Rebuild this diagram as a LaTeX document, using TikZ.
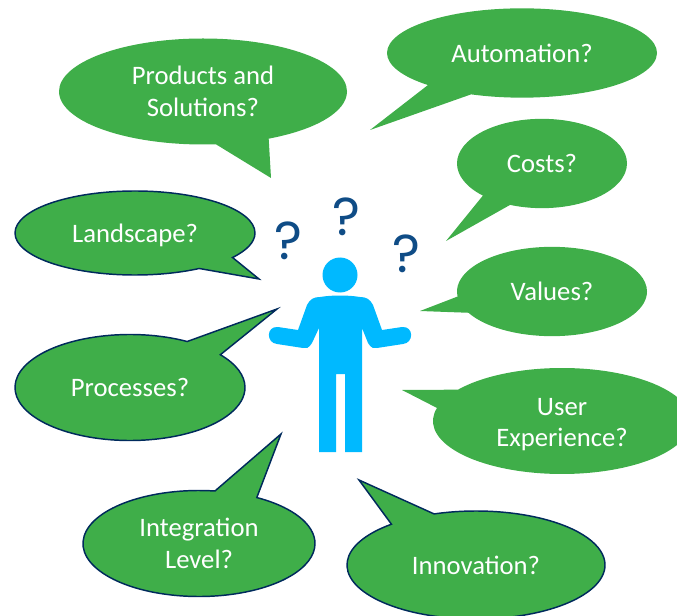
\documentclass[tikz,border=0pt]{standalone}
\usepackage{fontspec}
\setmainfont{Carlito}
\newfontfamily\markfont{Poppins}
\usetikzlibrary{shapes, shapes.callouts}
\definecolor{bubblegreen}{HTML}{3FAE49}
\definecolor{bubbleline}{HTML}{002A5C}
\definecolor{personblue}{HTML}{00B9FF}
\definecolor{markblue}{HTML}{0F4C86}

\begin{document}
\begin{tikzpicture}[x=0.75pt, y=-0.75pt,
    bubble/.style = {shape=ellipse callout, fill=bubblegreen, text=white,
        align=center, inner sep=0pt, outer sep=0pt, callout pointer arc=22,
        font=\fontsize{20}{23.5}\selectfont},
    outlined/.style = {draw=bubbleline, line width=1.1pt},
    qmark/.style = {text=markblue, inner sep=0pt,
        font=\markfont\fontsize{40}{40}\selectfont}]
    \useasboundingbox (0,0) rectangle (677,616);
    \node[bubble, minimum width=216pt, minimum height=79.5pt,
        callout absolute pointer={(271,178)}] (products) at (203,91.5) {Products and\\Solutions?};
    \node[bubble, minimum width=202.5pt, minimum height=67pt,
        callout absolute pointer={(370,130)}] (automation) at (522,53) {Automation?};
    \node[bubble, minimum width=127.5pt, minimum height=67pt,
        callout absolute pointer={(446,241)}] (costs) at (542,163.5) {Costs?};
    \node[bubble, minimum width=142.5pt, minimum height=67pt,
        callout absolute pointer={(420,311)}] (values) at (552,291.5) {Values?};
    \node[bubble, minimum width=193.5pt, minimum height=79.5pt, text depth=0pt, text height=38.6pt,
        callout absolute pointer={(402,390)}] (user) at (562,421) {User\\Experience?};
    \node[bubble, outlined, minimum width=180pt, minimum height=63pt, text depth=0pt,
        callout absolute pointer={(259,279)}] (landscape) at (135,233) {Landscape?};
    \node[bubble, outlined, minimum width=172.5pt, minimum height=79.5pt,
        callout absolute pointer={(277,309)}] (processes) at (130,387.5) {Processes?};
    \node[bubble, outlined, minimum width=174pt, minimum height=79.5pt,
        callout absolute pointer={(281,434)}] (integration) at (199,543.5) {Integration\\Level?};
    \node[bubble, outlined, minimum width=193.5pt, minimum height=81pt,
        callout absolute pointer={(359,480)}] (innovation) at (476,565) {Innovation?};
    \node[qmark] (markleft) at (288,241) {?};
    \node[qmark] (markmid) at (346,217) {?};
    \node[qmark] (markright) at (406,254) {?};
    \node[shape=circle, fill=personblue, minimum size=26.25pt, inner sep=0pt] (head) at (340,275) {};
    \fill[personblue] (319,452) -- (319,328) -- (312,343)
        .. controls (309,348) and (306,349) .. (303,348) -- (277,344)
        .. controls (266,343) and (266,326) .. (278,327) -- (298,330) -- (307,305)
        .. controls (310,299) and (314,297) .. (320,297)
        .. controls (332,295) and (348,295) .. (360,297)
        .. controls (366,297) and (370,299) .. (373,305) -- (382,330) -- (402,327)
        .. controls (414,326) and (414,343) .. (403,344) -- (377,348)
        .. controls (374,349) and (371,348) .. (368,343) -- (362,328)
        -- (362,452) -- (345,452) -- (345,374) -- (336,374) -- (336,452) -- cycle;
\end{tikzpicture}
\end{document}
